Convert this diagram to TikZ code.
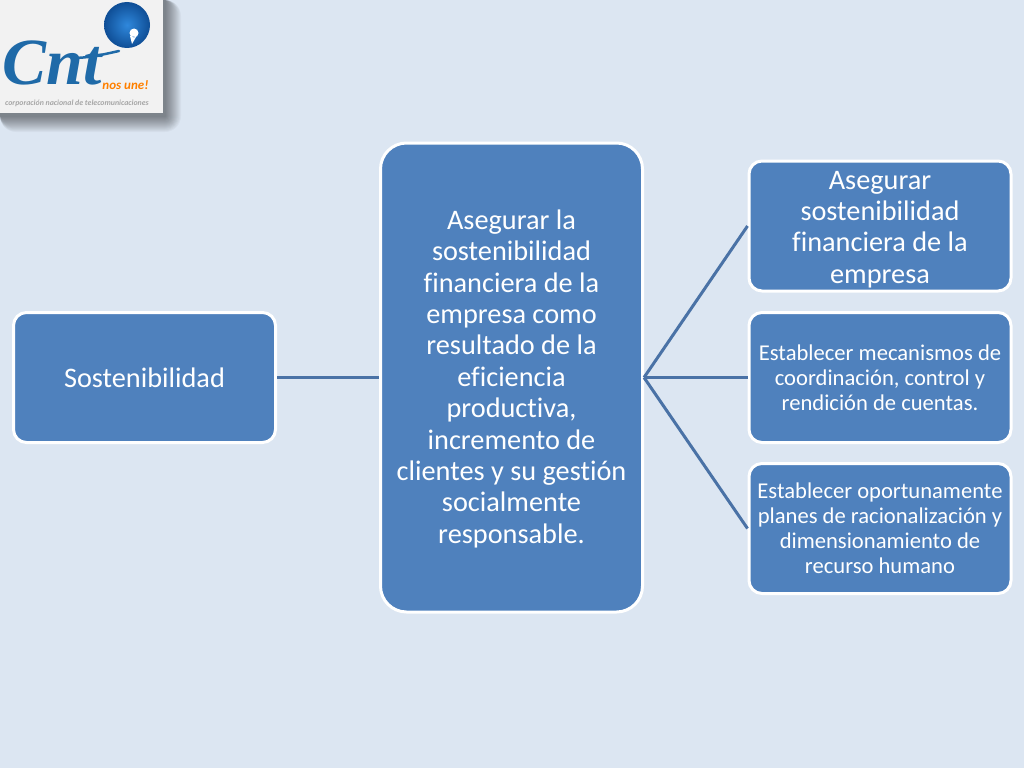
\documentclass[tikz,border=0pt]{standalone}
\usepackage{fontspec}
\setmainfont[RawFeature={-liga}]{Carlito}
\newfontfamily\logofont{Liberation Serif}
\definecolor{slidebg}{HTML}{DCE6F2}
\definecolor{boxblue}{HTML}{4F81BD}
\definecolor{linkblue}{HTML}{4A72A6}
\definecolor{logoblue}{HTML}{1F6AA8}
\definecolor{logopaper}{HTML}{F2F2F2}
\definecolor{balllight}{HTML}{2F88DC}
\definecolor{balldark}{HTML}{0F4E96}
\tikzset{
  box/.style={shape=rectangle,rounded corners=13pt,fill=boxblue,draw=white,line width=3pt,text=white,align=center,font=\fontsize{28.3}{31.4}\selectfont,text width=258pt,inner sep=0pt,minimum width=262pt,minimum height=130pt,execute at begin node={\spaceskip=0.226em\relax}},
  smallbox/.style={box,font=\fontsize{22.6}{25}\selectfont},
  link/.style={draw=linkblue,line width=3pt},
}
\begin{document}
\begin{tikzpicture}[x=1pt,y=-1pt]
\useasboundingbox[fill=slidebg] (0,0) rectangle (1024,768);
% logo
\foreach \i in {1,...,16}
  \fill[black,opacity=0.03,rounded corners=\i pt] (0,0) rectangle (165+\i,116+\i);
\fill[logopaper] (0,0) rectangle (163,113);
\shade[inner color=balllight,outer color=balldark] (127,25) circle (23);
\fill[white] (134,33) circle (4.5) (130,36) -- (132,44) -- (136,37) -- cycle;
\node[text=logoblue,font=\logofont\itshape\bfseries\fontsize{66}{66}\selectfont,inner sep=0pt] (cnt) at (52,63) {Cnt};
\draw[logoblue,line width=2.5pt,line cap=round] (72,58) .. controls (90,58) and (105,54) .. (119,51);
\node[text=orange,font=\itshape\bfseries\fontsize{13}{13}\selectfont,inner sep=0pt] (slogan) at (125.5,85) {nos une!};
\node[text=gray!70,font=\itshape\bfseries\fontsize{7.85}{8}\selectfont,inner sep=0pt] (corp) at (77,103.5) {corporación nacional de telecomunicaciones};
% boxes
\node[box] (sost) at (144.5,377.5) {Sostenibilidad};
\node[box,rounded corners=26pt,minimum height=469pt] (main) at (511.5,377.5) {\rule{0pt}{22pt}Asegurar la\\sostenibilidad\\financiera de la\\empresa como\\resultado de la\\eficiencia\\productiva,\\incremento de\\clientes y su gestión\\socialmente\\responsable.};
\node[box] (fin) at (880,226) {\rule{0pt}{25pt}Asegurar\\sostenibilidad\\financiera de la\\empresa};
\node[smallbox] (mec) at (880,377.5) {Establecer mecanismos de\\coordinación, control y\\rendición de cuentas.};
\node[smallbox] (plan) at (880,528.5) {Establecer oportunamente\\planes de racionalización y\\dimensionamiento de\\recurso humano};

\path [link] (sost) edge (main);
\path [link] (main.east) edge (fin.west);
\path [link] (main.east) edge (mec.west);
\path [link] (main.east) edge (plan.west);
\end{tikzpicture}
\end{document}
